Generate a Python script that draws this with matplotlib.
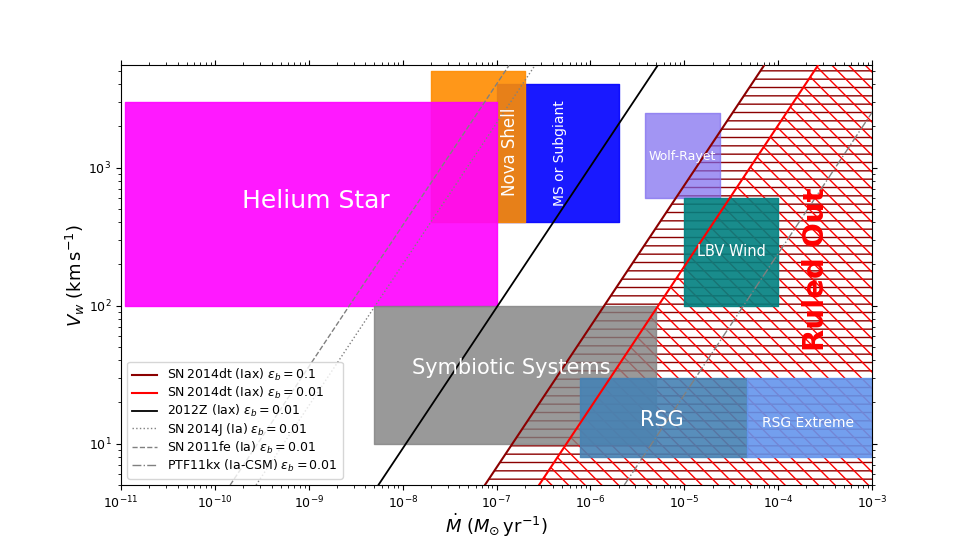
import numpy as np
import matplotlib.pyplot as plt

# line end points (Mdot at Vw = 5 and Vw = 5500 km/s)
vw_ends = [5, 5500]
mdot_2014dt_01 = [7.5e-8, 7.07e-5]
mdot_2014dt_001 = [2.83e-7, 2.65e-4]
mdot_2012Z = [5.5e-9, 5.2e-6]
mdot_2014J = [2.74e-10, 2.56e-7]
mdot_2011fe = [1.45e-10, 1.355e-7]
mdot_ptf11kx = [2.29e-6, 2.15e-3]

# progenitor regions: [mdot_lo, mdot_hi, vw_lo, vw_hi]
ms_box = [1e-7, 2e-6, 400, 4000]
nova_box = [2e-8, 2e-7, 400, 5000]
helium_box = [1.1e-11, 1e-7, 100, 3000]
wr_box = [3.8e-6, 2.4e-5, 600, 2500]
lbv_box = [1e-5, 1e-4, 100, 600]
symb_box = [5e-9, 5e-6, 10, 100]
rsg_box = [7.8e-7, 4.6e-5, 8, 30]
rsgx_box = [4.6e-5, 1e-3, 8, 30]

xmax = 1e-3

fig, ax = plt.subplots(figsize=(9.69, 5.45), dpi=100)
ax.set_xscale('log')
ax.set_yscale('log')

# ruled out regions
ax.fill_betweenx(vw_ends, mdot_2014dt_01, xmax, facecolor='none', edgecolor='darkred',
                 hatch='--', linewidth=0, zorder=1)
ax.fill_betweenx(vw_ends, mdot_2014dt_001, xmax, facecolor='none', edgecolor='red',
                 hatch='\\\\', linewidth=0, zorder=1)


def box(b, color, alpha):
    ax.fill_between([b[0], b[1]], b[2], b[3], color=color, alpha=alpha, zorder=2)


box(ms_box, 'blue', 0.9)
box(nova_box, 'darkorange', 0.9)
box(helium_box, 'magenta', 0.9)
box(wr_box, 'mediumslateblue', 0.7)
box(lbv_box, 'teal', 0.9)
box(symb_box, 'gray', 0.8)
box(rsg_box, 'steelblue', 0.9)
box(rsgx_box, 'cornflowerblue', 0.9)

ax.plot(mdot_2014dt_01, vw_ends, color='darkred', zorder=3,
        label=r'SN$\,$2014dt (Iax) $\epsilon_b = 0.1$')
ax.plot(mdot_2014dt_001, vw_ends, color='red', zorder=3,
        label=r'SN$\,$2014dt (Iax) $\epsilon_b = 0.01$')
ax.plot(mdot_2012Z, vw_ends, color='black', lw=1.3, zorder=3,
        label=r'2012Z (Iax) $\epsilon_b = 0.01$')
ax.plot(mdot_2014J, vw_ends, color='gray', ls=':', lw=1, zorder=3,
        label=r'SN$\,$2014J (Ia) $\epsilon_b = 0.01$')
ax.plot(mdot_2011fe, vw_ends, color='gray', ls='--', lw=1, zorder=3,
        label=r'SN$\,$2011fe (Ia) $\epsilon_b = 0.01$')
ax.plot(mdot_ptf11kx, vw_ends, color='gray', ls='-.', lw=1, zorder=3,
        label=r'PTF11kx (Ia-CSM) $\epsilon_b = 0.01$')

# labels
ax.text(1.2e-9, 575, 'Helium Star', color='white', fontsize=18, ha='center', va='center', zorder=4)
ax.text(1.4e-7, 1300, 'Nova Shell', color='white', fontsize=12, rotation=90,
        ha='center', va='center', zorder=4)
ax.text(4.7e-7, 1280, 'MS or Subgiant', color='white', fontsize=10, rotation=90,
        ha='center', va='center', zorder=4)
ax.text(9.5e-6, 1200, 'Wolf-Rayet', color='white', fontsize=9, ha='center', va='center', zorder=4)
ax.text(3.2e-5, 245, 'LBV Wind', color='white', fontsize=10.5, ha='center', va='center', zorder=4)
ax.text(1.43e-7, 35.5, 'Symbiotic Systems', color='white', fontsize=15, ha='center', va='center', zorder=4)
ax.text(5.8e-6, 14.8, 'RSG', color='white', fontsize=15, ha='center', va='center', zorder=4)
ax.text(2.08e-4, 14.1, 'RSG Extreme', color='white', fontsize=10, ha='center', va='center', zorder=4)
ax.text(2.53e-4, 182, 'Ruled Out', color='red', fontsize=21, fontweight='bold', rotation=90,
        ha='center', va='center', zorder=4)

ax.set_xlim(1e-11, 1e-3)
ax.set_ylim(5, 5500)
ax.tick_params(which='both', top=True, right=True, labelsize=9)
ax.set_xlabel(r'$\dot{M}$ ($M_{\odot}\,$yr$^{-1}$)', fontsize=13, labelpad=0)
ax.set_ylabel(r'$V_w$ (km$\,$s$^{-1}$)', fontsize=13, labelpad=1)
ax.legend(loc='lower left', fontsize=9, labelspacing=0.15)

fig.savefig('out.png', dpi=100)
